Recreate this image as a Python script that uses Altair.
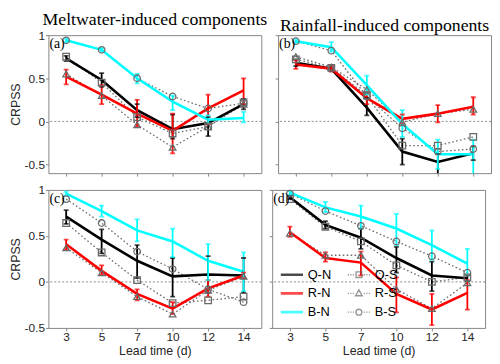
import json
import altair as alt
import pandas as pd

lead_days = ["3", "5", "7", "10", "12", "14"]
series_order = ["Q-N", "R-N", "B-N", "Q-S", "R-S", "B-S"]
series_colors = ["#000000", "#ff0000", "#00ffff", "#6a6a6a", "#6a6a6a", "#6a6a6a"]
col_titles = ["Meltwater-induced components", "Rainfall-induced components"]
panel_tags = ["(a)", "(b)", "(c)", "(d)"]
y_ticks = [-0.5, 0, 0.5, 1]

# ---- (a) meltwater, top row ----
a_qn = [0.73, 0.48, 0.13, -0.09, -0.02, 0.20]
a_qn_lo = [0.70, 0.40, 0.05, -0.20, -0.17, 0.14]
a_qn_hi = [0.76, 0.56, 0.20, 0.08, 0.05, 0.26]
a_rn = [0.52, 0.31, 0.09, -0.11, 0.15, 0.36]
a_rn_lo = [0.43, 0.20, -0.06, -0.37, -0.03, 0.20]
a_rn_hi = [0.60, 0.42, 0.25, 0.09, 0.31, 0.50]
a_bn = [0.94, 0.83, 0.50, 0.23, 0.02, 0.04]
a_bn_lo = [0.92, 0.81, 0.44, 0.13, -0.02, -0.01]
a_bn_hi = [0.96, 0.85, 0.55, 0.30, 0.07, 0.11]
a_qs = [0.75, 0.45, 0.05, -0.14, -0.06, 0.22]
a_rs = [0.55, 0.30, -0.04, -0.30, -0.06, 0.20]
a_bs = [0.94, 0.83, 0.50, 0.29, 0.15, 0.21]

# ---- (b) rainfall, top row ----
b_qn = [0.68, 0.61, 0.16, -0.35, -0.47, -0.37]
b_qn_lo = [0.64, 0.58, 0.07, -0.50, -0.65, -0.45]
b_qn_hi = [0.72, 0.64, 0.27, -0.20, -0.38, -0.29]
b_rn = [0.66, 0.61, 0.27, 0.03, 0.09, 0.17]
b_rn_lo = [0.61, 0.58, 0.20, -0.02, -0.01, 0.08]
b_rn_hi = [0.71, 0.64, 0.34, 0.08, 0.19, 0.28]
b_bn = [0.93, 0.86, 0.42, -0.03, -0.38, -0.38]
b_bn_lo = [0.91, 0.81, 0.31, -0.18, -0.55, -0.65]
b_bn_hi = [0.95, 0.92, 0.53, 0.13, -0.21, -0.21]
b_qs = [0.72, 0.62, 0.30, -0.28, -0.28, -0.18]
b_rs = [0.75, 0.63, 0.37, -0.01, 0.09, 0.14]
b_bs = [0.93, 0.82, 0.29, -0.08, -0.35, -0.32]

# ---- (c) meltwater, bottom row ----
c_qn = [0.71, 0.46, 0.23, 0.06, 0.08, 0.07]
c_qn_lo = [0.63, 0.31, 0.04, -0.16, -0.12, -0.12]
c_qn_hi = [0.78, 0.57, 0.40, 0.26, 0.28, 0.26]
c_rn = [0.41, 0.12, -0.13, -0.29, -0.07, 0.07]
c_rn_lo = [0.35, 0.08, -0.20, -0.35, -0.16, 0.04]
c_rn_hi = [0.46, 0.18, -0.08, -0.22, 0.02, 0.10]
c_bn = [0.96, 0.77, 0.56, 0.44, 0.23, 0.11]
c_bn_lo = [0.94, 0.71, 0.44, 0.27, 0.02, -0.10]
c_bn_hi = [0.98, 0.83, 0.68, 0.58, 0.41, 0.32]
c_qs = [0.64, 0.32, 0.02, -0.23, -0.20, -0.16]
c_rs = [0.37, 0.10, -0.16, -0.35, -0.09, 0.06]
c_bs = [0.90, 0.64, 0.33, 0.14, -0.08, -0.22]

# ---- (d) rainfall, bottom row ----
d_qn = [0.92, 0.62, 0.48, 0.26, 0.07, 0.04]
d_qn_lo = [0.90, 0.58, 0.36, 0.10, -0.10, 0.01]
d_qn_hi = [0.94, 0.66, 0.58, 0.38, 0.22, 0.07]
d_rn = [0.54, 0.26, 0.21, -0.13, -0.30, -0.12]
d_rn_lo = [0.49, 0.22, 0.07, -0.33, -0.47, -0.30]
d_rn_hi = [0.60, 0.32, 0.33, 0.05, -0.13, 0.02]
d_bn = [0.97, 0.81, 0.71, 0.58, 0.40, 0.20]
d_bn_lo = [0.95, 0.76, 0.58, 0.40, 0.24, 0.08]
d_bn_hi = [0.99, 0.87, 0.83, 0.74, 0.56, 0.36]
d_qs = [0.90, 0.60, 0.44, 0.18, 0.00, 0.05]
d_rs = [0.53, 0.29, 0.29, -0.08, -0.29, -0.01]
d_bs = [0.96, 0.77, 0.61, 0.44, 0.28, 0.10]

N_SERIES = ["Q-N", "R-N", "B-N"]
S_SERIES = ["Q-S", "R-S", "B-S"]
S_SHAPES = ["square", "triangle-up", "circle"]
GRAY = "#6a6a6a"
FRAME = "#858585"
COLOR_OF = dict(zip(series_order, series_colors))

# legend symbols (line + marker glyphs)
thick = "M-1.25,0H1.25M-1.25,-0.07H1.25M-1.25,0.07H1.25"
dots = "M-1.25,0H-1.12M-0.97,0H-0.84M-0.69,0H-0.56M0.56,0H0.69M0.84,0H0.97M1.12,0H1.25"
sq = "M-0.32,-0.32H0.32V0.32H-0.32Z"
tri = "M0,-0.4L0.37,0.26H-0.37Z"
circ = "M-0.33,0A0.33,0.33,0,1,1,0.33,0A0.33,0.33,0,1,1,-0.33,0Z"
legend_paths = [thick, thick, thick, dots + sq, dots + tri, dots + circ]


def build(qn, qn_lo, qn_hi, rn, rn_lo, rn_hi, bn, bn_lo, bn_hi, qs, rs, bs):
    groups = [
        ("Q-N", qn, qn_lo, qn_hi), ("R-N", rn, rn_lo, rn_hi), ("B-N", bn, bn_lo, bn_hi),
        ("Q-S", qs, None, None), ("R-S", rs, None, None), ("B-S", bs, None, None),
    ]
    rows = []
    for name, v, lo, hi in groups:
        for i, lab in enumerate(lead_days):
            rows.append({
                "i": i, "lead": lab, "series": name, "clr": COLOR_OF[name], "v": v[i],
                "lo": lo[i] if lo else None, "hi": hi[i] if hi else None,
            })
    return pd.DataFrame(rows)


tables = [
    build(a_qn, a_qn_lo, a_qn_hi, a_rn, a_rn_lo, a_rn_hi, a_bn, a_bn_lo, a_bn_hi, a_qs, a_rs, a_bs),
    build(b_qn, b_qn_lo, b_qn_hi, b_rn, b_rn_lo, b_rn_hi, b_bn, b_bn_lo, b_bn_hi, b_qs, b_rs, b_bs),
    build(c_qn, c_qn_lo, c_qn_hi, c_rn, c_rn_lo, c_rn_hi, c_bn, c_bn_lo, c_bn_hi, c_qs, c_rs, c_bs),
    build(d_qn, d_qn_lo, d_qn_hi, d_rn, d_rn_lo, d_rn_hi, d_bn, d_bn_lo, d_bn_hi, d_qs, d_rs, d_bs),
]

W, H = 216, 140
cscale = alt.Scale(domain=series_order, range=series_colors)


def panel(k):
    df = tables[k]
    row, col = divmod(k, 2)
    top = row == 0
    left = col == 0
    ydom = [-0.6, 1] if top else [-0.5, 1]

    xaxis = alt.Axis(
        values=list(range(len(lead_days))),
        labelExpr=f"{json.dumps(lead_days)}[datum.value]",
        labels=not top,
        title=None if top else "Lead time (d)",
    )

    def X():
        return alt.X("i:Q", scale=alt.Scale(domain=[-0.5, len(lead_days) - 0.5], nice=False, zero=False), axis=xaxis)

    def Y(field):
        return alt.Y(
            f"{field}:Q",
            scale=alt.Scale(domain=ydom, nice=False, zero=False),
            axis=alt.Axis(values=y_ticks, labelExpr="datum.value + ''", labels=left,
                          title="CRPSS" if left else None),
        )

    base = alt.Chart(df)
    nfilt = alt.FieldOneOfPredicate(field="series", oneOf=N_SERIES)
    sfilt = alt.FieldOneOfPredicate(field="series", oneOf=S_SERIES)
    color = alt.Color("clr:N", scale=None)

    zero = alt.Chart(pd.DataFrame({"v": [0.0]})).mark_rule(
        color="#8a8a8a", strokeWidth=1, strokeDash=[2, 2]
    ).encode(y=Y("v"))

    slines = base.transform_filter(sfilt).mark_line(
        strokeWidth=1.3, strokeDash=[1.6, 2.4]
    ).encode(x=X(), y=Y("v"), color=color, detail="series:N")

    nlines = base.transform_filter(nfilt).mark_line(strokeWidth=2.6, clip=True).encode(
        x=X(), y=Y("v"), color=color, detail="series:N"
    )

    err = base.transform_filter(nfilt).mark_rule(strokeWidth=1.8, clip=True).encode(
        x=X(), y=Y("lo"), y2="hi:Q", color=color
    )

    caps = base.transform_filter(nfilt).transform_fold(["lo", "hi"], as_=["end", "ev"]).mark_tick(
        orient="horizontal", size=5, thickness=1.8, clip=True
    ).encode(x=X(), y=Y("ev"), color=color)

    layers = [zero, slines, nlines, err, caps]
    for name, shp in zip(S_SERIES, S_SHAPES):
        layers.append(
            base.transform_filter(alt.datum.series == name).mark_point(
                shape=shp, filled=False, size=44, strokeWidth=1.3, color=GRAY, opacity=1
            ).encode(x=X(), y=Y("v"))
        )

    tag = alt.Chart(pd.DataFrame({"tag": [panel_tags[k]]})).mark_text(
        align="left", baseline="top", font="Liberation Serif", fontSize=14, color="black"
    ).encode(x=alt.value(1), y=alt.value(2), text="tag:N")
    layers.append(tag)

    if k == 3:
        legend_props = dict(
            title=None, orient="none", legendX=10, legendY=76, columns=2,
            columnPadding=13, rowPadding=2, padding=0, symbolSize=324,
            symbolStrokeWidth=1.4, labelOffset=6, labelFont="Liberation Sans",
            labelFontSize=13, labelColor="black",
        )
        leg = base.transform_filter("datum.v > 99").mark_point(filled=False).encode(
            x=X(), y=Y("v"),
            color=alt.Color("series:N", scale=cscale, legend=alt.Legend(**legend_props)),
            shape=alt.Shape("series:N", scale=alt.Scale(domain=series_order, range=legend_paths),
                            legend=alt.Legend(**legend_props)),
        )
        layers.append(leg)

    ch = alt.layer(*layers).properties(width=W, height=H)
    if top:
        ch = ch.properties(title=alt.TitleParams(
            col_titles[col], font="Liberation Serif", fontSize=18, fontWeight="normal",
            anchor="middle", offset=0, color="black"))
    return ch


def indep(c):
    return c.resolve_scale(color="independent", shape="independent").resolve_legend(
        color="independent", shape="independent")


row1 = indep(alt.hconcat(panel(0), panel(1), spacing=6))
row2 = indep(alt.hconcat(panel(2), panel(3), spacing=6))

chart = indep(alt.vconcat(row1, row2, spacing=6)).configure(
    padding=0, background="white"
).configure_view(
    stroke=FRAME, strokeWidth=1
).configure_axis(
    grid=False, domain=False, tickColor=FRAME, tickSize=3, tickWidth=1,
    labelFont="Liberation Sans", labelFontSize=12, labelColor="#262626", labelPadding=1,
    titleFont="Liberation Sans", titleFontSize=12.5, titleFontWeight="normal",
    titleColor="#262626", titlePadding=2,
)

chart.save("out.html", embed_options={"renderer": "svg", "actions": False})
